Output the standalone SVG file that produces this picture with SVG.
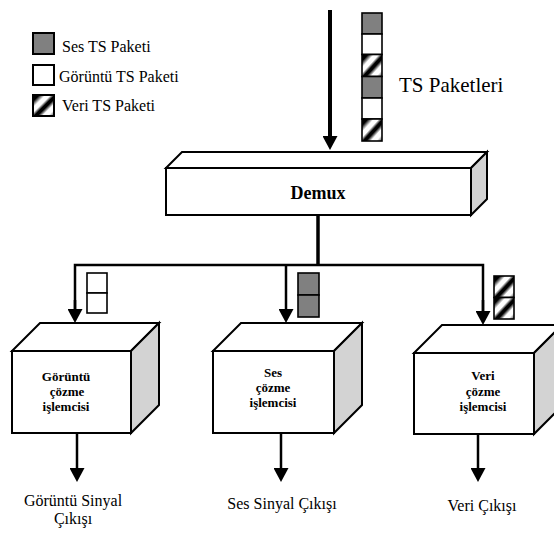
<svg xmlns="http://www.w3.org/2000/svg" width="554" height="534" viewBox="0 0 554 534">
<style>
text{font-family:'Liberation Serif','Times New Roman','DejaVu Serif',serif;fill:#000}
.lg{font-size:16px}
.lb{font-size:13px;font-weight:bold;text-anchor:middle}
.out{font-size:16px;text-anchor:middle}
.face{fill:#fff;stroke:#000;stroke-width:2;stroke-linejoin:miter}
.side{fill:#d3d3d3;stroke:#000;stroke-width:2}
.pk{stroke:#000;stroke-width:1.6}
.g{fill:#808080}
.w{fill:#fff}
.h{fill:url(#hatch)}
.ln{stroke:#000;fill:none}
</style>
<defs>
<linearGradient id="hatch" x1="0" y1="0" x2="1" y2="1">
<stop offset="0" stop-color="#000"/>
<stop offset="0.15" stop-color="#000"/>
<stop offset="0.3" stop-color="#fff"/>
<stop offset="0.42" stop-color="#fff"/>
<stop offset="0.52" stop-color="#000"/>
<stop offset="0.6" stop-color="#000"/>
<stop offset="0.72" stop-color="#fff"/>
<stop offset="0.85" stop-color="#fff"/>
<stop offset="1" stop-color="#444"/>
</linearGradient>
<marker id="ah" viewBox="0 0 14 15" markerWidth="14" markerHeight="15" refX="0" refY="7.5" orient="auto" markerUnits="userSpaceOnUse">
<path d="M0,0 L14,7.5 L0,15 z" fill="#000"/>
</marker>
</defs>

<g id="legend" font-family="Liberation Serif, serif">
<rect class="pk g" x="33" y="33" width="21" height="21" style="stroke-width:2"/>
<text class="lg" x="62" y="52">Ses TS Paketi</text>
<rect class="pk w" x="33" y="65" width="21" height="20" style="stroke-width:2"/>
<text class="lg" x="59" y="82">Görüntü TS Paketi</text>
<rect class="pk h" x="33" y="95" width="21" height="21" style="stroke-width:2"/>
<text class="lg" x="62" y="111">Veri TS Paketi</text>
</g>

<g id="ts-stream">
<rect class="pk g" x="362" y="13" width="20" height="21"/>
<rect class="pk w" x="362" y="34" width="20" height="20.5"/>
<rect class="pk h" x="362" y="54.5" width="20" height="22"/>
<rect class="pk g" x="362" y="76.5" width="20" height="21.5"/>
<rect class="pk w" x="362" y="98" width="20" height="21"/>
<rect class="pk h" x="362" y="119" width="20" height="22"/>
<text x="399" y="92" font-size="21">TS Paketleri</text>
</g>

<g id="demux">
<polygon class="face" points="166,168 182,152 487,152 471,168"/>
<polygon class="side" points="471,168 487,152 487,199 471,215"/>
<rect class="face" x="166" y="168" width="305" height="47"/>
<text x="318" y="199" font-size="18" font-weight="bold" text-anchor="middle">Demux</text>
</g>

<g id="video-decoder">
<polygon class="face" points="12,351 40,323 159,323 131,351"/>
<polygon class="side" points="131,351 159,323 159,405 131,433"/>
<rect class="face" x="12" y="351" width="119" height="82"/>
<text class="lb" x="66" y="381">Görüntü</text>
<text class="lb" x="67" y="396">çözme</text>
<text class="lb" x="66" y="411">işlemcisi</text>
<rect class="pk w" x="87" y="273" width="20" height="20"/>
<rect class="pk w" x="87" y="293" width="20" height="20"/>
</g>

<g id="audio-decoder">
<polygon class="face" points="213,351 241,323 362,323 334,351"/>
<polygon class="side" points="334,351 362,323 362,405 334,433"/>
<rect class="face" x="213" y="351" width="121" height="82"/>
<text class="lb" x="273" y="377">Ses</text>
<text class="lb" x="273" y="392">çözme</text>
<text class="lb" x="273" y="407">işlemcisi</text>
<rect class="pk g" x="298" y="273" width="21" height="22"/>
<rect class="pk g" x="298" y="295" width="21" height="22"/>
</g>

<g id="data-decoder">
<polygon class="face" points="414,353 442,325 562,325 534,353"/>
<polygon class="side" points="534,353 562,325 562,406 534,434"/>
<rect class="face" x="414" y="353" width="120" height="81"/>
<text class="lb" x="483" y="380">Veri</text>
<text class="lb" x="483" y="396">çözme</text>
<text class="lb" x="483" y="411">işlemcisi</text>
<rect class="pk h" x="494" y="276" width="20" height="21.5"/>
<rect class="pk h" x="494" y="297.5" width="20" height="21.5"/>
</g>

<g id="outputs">
<text class="out" x="73" y="506">Görüntü Sinyal</text>
<text class="out" x="73" y="524">Çıkışı</text>
<text class="out" x="282" y="509">Ses Sinyal Çıkışı</text>
<text class="out" x="482" y="511">Veri Çıkışı</text>
</g>

<g id="connectors">
<line class="ln" x1="330" y1="10" x2="330" y2="136" stroke-width="4" marker-end="url(#ah)"/>
<line class="ln" x1="318" y1="215" x2="318" y2="265" stroke-width="3.5"/>
<polyline class="ln" points="75,309 75,265 483,265 483,311" stroke-width="2.5"/>
<line class="ln" x1="75" y1="300" x2="75" y2="309" stroke-width="2.5" marker-end="url(#ah)"/>
<line class="ln" x1="286" y1="265" x2="286" y2="309" stroke-width="2.5" marker-end="url(#ah)"/>
<line class="ln" x1="483" y1="300" x2="483" y2="311" stroke-width="2.5" marker-end="url(#ah)"/>
<line class="ln" x1="77" y1="433" x2="77" y2="468" stroke-width="2.5" marker-end="url(#ah)"/>
<line class="ln" x1="281" y1="433" x2="281" y2="468" stroke-width="2.5" marker-end="url(#ah)"/>
<line class="ln" x1="478" y1="434" x2="478" y2="468" stroke-width="2.5" marker-end="url(#ah)"/>
</g>
</svg>
